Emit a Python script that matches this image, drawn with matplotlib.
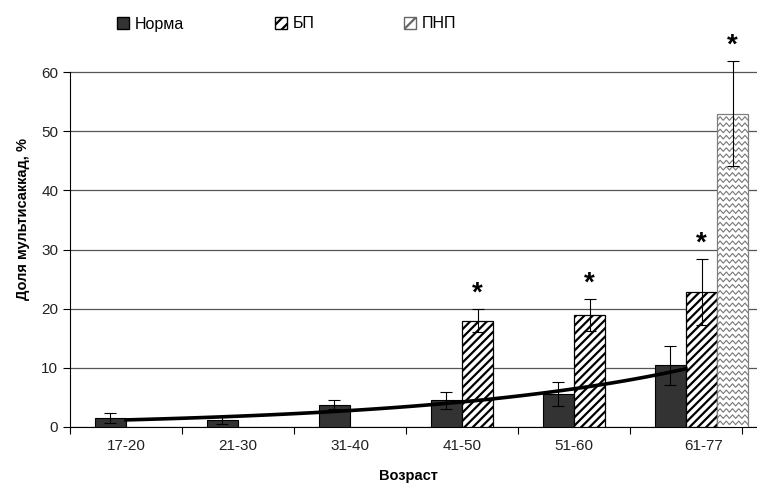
import numpy as np
import matplotlib
matplotlib.use("Agg")
import matplotlib.pyplot as plt
from matplotlib.patches import Patch

plt.rcParams['font.family'] = ['Liberation Sans', 'DejaVu Sans']
plt.rcParams['hatch.linewidth'] = 1.6

# data
ages = ['17-20', '21-30', '31-40', '41-50', '51-60', '61-77']
norma = [1.5, 1.1, 3.8, 4.5, 5.6, 10.4]
norma_err = [0.8, 0.6, 0.8, 1.5, 2.0, 3.3]
bp = [np.nan, np.nan, np.nan, 18.0, 19.0, 22.8]
bp_err = [0, 0, 0, 2.0, 2.7, 5.6]
pnp = [np.nan, np.nan, np.nan, np.nan, np.nan, 53.0]
pnp_err = [0, 0, 0, 0, 0, 8.9]
bp_sig = [False, False, False, True, True, True]
pnp_sig = [False, False, False, False, False, True]

fig = plt.figure(figsize=(7.57, 4.84), dpi=100)
ax = fig.add_axes([70 / 757, 57 / 484, 687 / 757, 417 / 484])

x = np.arange(len(ages))
w = 0.277

ax.bar(x - w / 2, norma, w, color='#333333', edgecolor='black', linewidth=0.8, zorder=3)
ax.bar(x + w / 2, bp, w, color='white', edgecolor='black', hatch='////', linewidth=0.9, zorder=3)
pnp_bars = ax.bar(x + 1.5 * w, pnp, w, color='white', edgecolor='#808080', linewidth=0.9, zorder=3)

# wavy fill for the ПНП bar, built from the bar's own geometry
for rect in pnp_bars:
    h = rect.get_height()
    if not np.isfinite(h):
        continue
    x0, wd = rect.get_x(), rect.get_width()
    xs = np.linspace(x0, x0 + wd, 11)
    zig = np.tile([0, 0.6], 6)[:11]
    for y0 in np.arange(0.4, h, 1.05):
        ln = ax.plot(xs, y0 + zig, color='#777777', lw=0.8, zorder=4)[0]
        ln.set_clip_path(rect)

ekw = dict(fmt='none', ecolor='black', elinewidth=0.8, capsize=4, capthick=0.8, zorder=5)
ax.errorbar(x - w / 2, norma, yerr=norma_err, **ekw)
ax.errorbar(x + w / 2, bp, yerr=bp_err, **ekw)
ax.errorbar(x + 1.5 * w, pnp, yerr=pnp_err, **ekw)

for i in range(len(ages)):
    if bp_sig[i]:
        ax.text(x[i] + w / 2, bp[i] + bp_err[i] + 2.6, '*', ha='center', va='center', fontsize=20, fontweight='bold', zorder=6)
    if pnp_sig[i]:
        ax.text(x[i] + 1.5 * w, pnp[i] + pnp_err[i] + 2.6, '*', ha='center', va='center', fontsize=20, fontweight='bold', zorder=6)

# exponential trendline fitted to the Норма series
k, b = np.polyfit(x, np.log(norma), 1)
xt = np.linspace(0, len(ages) - 1, 100)
ax.plot(xt, np.exp(b + k * xt), color='black', lw=2.6, zorder=6)

ax.set_xlim(-0.5, -0.5 + 687 / 112)
ax.set_ylim(0, 70.5)
ax.set_yticks([0, 10, 20, 30, 40, 50, 60])
ax.grid(axis='y', color='#555555', linewidth=0.9, zorder=0)
ax.set_axisbelow(True)

ax.set_xticks(np.arange(len(ages) + 1) - 0.5)
ax.set_xticklabels([])
label_pos = list(x.astype(float))
label_pos[-1] += 0.16
ax.set_xticks(label_pos, minor=True)
ax.set_xticklabels(ages, minor=True)
ax.tick_params(axis='x', which='major', direction='out', length=5, color='black')
ax.tick_params(axis='x', which='minor', length=0, labelsize=11, pad=9, labelcolor='#222222')
ax.tick_params(axis='y', direction='out', length=5, labelsize=11, labelcolor='#222222')

for s in ['top', 'right']:
    ax.spines[s].set_visible(False)
ax.spines['left'].set_bounds(0, 60)
ax.spines['left'].set_color('black')
ax.spines['bottom'].set_color('black')

ax.set_ylabel('Доля мультисаккад, %', fontsize=10.5, fontweight='bold', labelpad=8)
fig.text(408 / 757, 1 - 476 / 484, 'Возраст', ha='center', va='center', fontsize=10.5, fontweight='bold')

handles = [
    Patch(facecolor='#333333', edgecolor='black', label='Норма'),
    Patch(facecolor='white', edgecolor='black', hatch='///', label='БП'),
    Patch(facecolor='white', edgecolor='#666666', hatch='x', label='ПНП'),
]
starts = [117, 275, 404]
for hnd, sx in zip(handles, starts):
    fig.legend(handles=[hnd], loc='center left', bbox_to_anchor=(sx / 757, 1 - 24 / 484),
               frameon=False, fontsize=11.5, handlelength=0.75, handleheight=0.75,
               handletextpad=0.35, borderaxespad=0, borderpad=0)

fig.savefig('out.png', dpi=100)
